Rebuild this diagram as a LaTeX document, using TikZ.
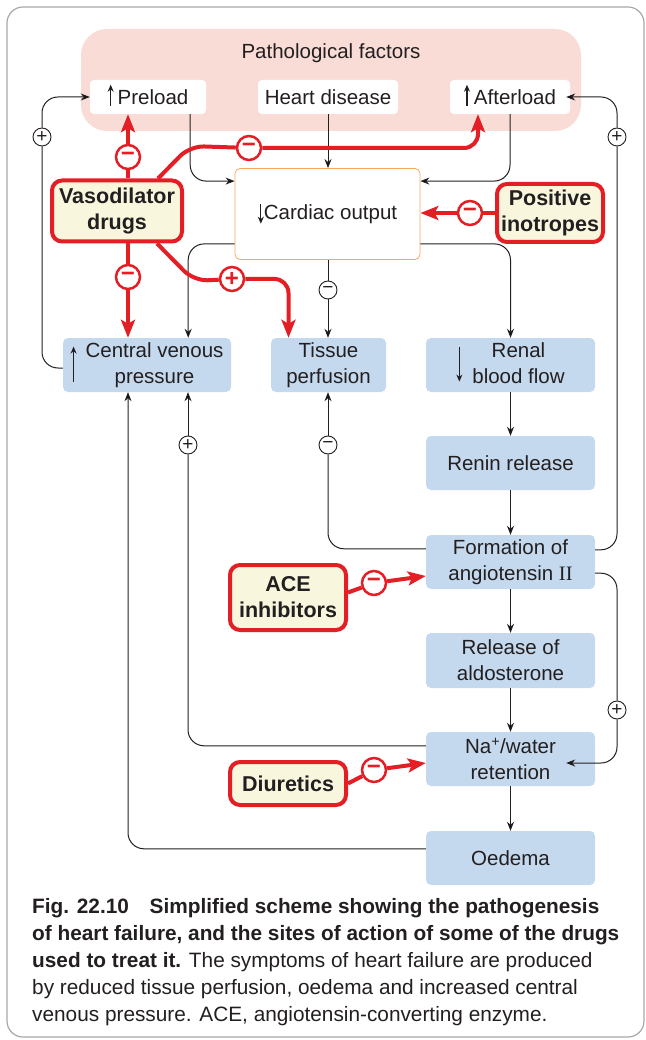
\documentclass[tikz,border=0pt]{standalone}
\usepackage{fontspec}
\setmainfont{Liberation Sans}
\newfontfamily\romfont{Liberation Serif}
\usetikzlibrary{arrows.meta}

\definecolor{inkblack}{HTML}{231F20}
\definecolor{framegray}{HTML}{A8A8A8}
\definecolor{pathopink}{HTML}{FADCD7}
\definecolor{outblue}{HTML}{C5D9EE}
\definecolor{drugred}{HTML}{E31E24}
\definecolor{drugyellow}{HTML}{F8F7DE}
\definecolor{coorange}{HTML}{F5A864}

\tikzset{
  glyph/.style={-{Stealth[length=7pt,width=6pt]}, line width=1.2pt, draw=inkblack},
  patho/.style={fill=pathopink, rounded corners=26pt, minimum width=500pt, minimum height=102pt},
  factor/.style={fill=white, rounded corners=4pt, minimum height=34pt, inner sep=0pt},
  cobox/.style={draw=coorange, line width=0.8pt, fill=white, rounded corners=5pt,
    minimum width=185pt, minimum height=91pt, inner sep=0pt},
  outcome/.style={fill=outblue, rounded corners=5pt, minimum width=169pt, minimum height=54pt,
    align=center, inner sep=0pt},
  drug/.style={draw=drugred, line width=4pt, fill=drugyellow, rounded corners=10pt,
    font=\bfseries\fontsize{21.5}{26}\selectfont, align=center, inner sep=0pt},
  sign/.style={circle, draw=inkblack, fill=white, line width=0.9pt, minimum size=18pt,
    inner sep=0pt, font=\fontsize{19}{19}\selectfont},
  redsign/.style={circle, draw=drugred, fill=white, line width=2.5pt, minimum size=24pt,
    inner sep=0pt, text=drugred, font=\bfseries\fontsize{24}{24}\selectfont},
  flow/.style={-{Stealth[length=9pt,width=7pt]}, draw=inkblack, line width=1pt, rounded corners=16pt},
  link/.style={draw=inkblack, line width=1pt, rounded corners=16pt},
  act/.style={-{Stealth[length=18pt,width=14pt,inset=4pt]}, draw=drugred, line width=4pt, rounded corners=14pt},
  actline/.style={draw=drugred, line width=4pt, rounded corners=14pt},
}

% petites fleches dans le texte des boites
\newcommand{\arrup}[2]{\smash{\raisebox{-#2pt}{\tikz[x=1pt,y=1pt]\draw[glyph] (0,0) -- (0,#1);}}}
\newcommand{\arrdn}[2]{\smash{\raisebox{-#2pt}{\tikz[x=1pt,y=1pt]\draw[glyph] (0,#1) -- (0,0);}}}

\begin{document}
\begin{tikzpicture}[x=1pt, y=-1pt, every node/.style={text=inkblack, font=\fontsize{20.5}{26}\selectfont}]
\useasboundingbox (0,0) rectangle (645,1040);
\draw[framegray, line width=1.2pt, rounded corners=16pt] (7,7) rectangle (644,1037);

% facteurs pathologiques
\node[patho] (patho) at (331,80) {};
\node (title) at (331,53) {Pathological factors};
\node[factor, minimum width=116pt] (preload) at (148,97) {\arrup{21}{2}\hspace{4pt}Preload};
\node[factor, minimum width=140pt] (heart) at (328,97) {Heart disease};
\node[factor, minimum width=120pt] (afterload) at (510,97) {\arrup{21}{2}\hspace{4pt}Afterload};
\node[cobox] (cardiac) at (327.5,214) {\raisebox{4pt}{\arrdn{20}{5}Cardiac output}};

% medicaments
\node[drug, minimum width=130pt, minimum height=61pt] (vaso) at (117,211) {Vasodilator\\drugs};
\node[drug, minimum width=106pt, minimum height=58pt] (ino) at (550,213) {Positive\\inotropes};
\node[drug, minimum width=116pt, minimum height=65pt] (ace) at (288,597.5) {ACE\\inhibitors};
\node[drug, minimum width=116pt, minimum height=43pt] (diur) at (288,783.5) {Diuretics};

% consequences
\node[outcome, minimum width=168pt] (cvp) at (147,365)
  {\arrup{35}{12}\hspace{9pt}\begin{tabular}{@{}c@{}}Central venous\\pressure\end{tabular}};
\node[outcome, minimum width=115pt] (tissue) at (328.5,365) {Tissue\\perfusion};
\node[outcome] (renal) at (510.5,365)
  {\arrdn{35}{12}\hspace{10pt}\begin{tabular}{@{}c@{}}Renal\\blood flow\end{tabular}};
\node[outcome] (renin) at (510.5,463) {Renin release};
\node[outcome] (form) at (510.5,562) {Formation of\\angiotensin {\romfont II}};
\node[outcome, minimum height=55pt] (aldo) at (510.5,660.5) {Release of\\aldosterone};
\node[outcome] (na) at (510.5,759) {Na\textsuperscript{+}/water\\retention};
\node[outcome] (oedema) at (510.5,858) {Oedema};

% signes
\node[sign] (cpl) at (42,137) {+};
\node[sign] (cpr) at (617,137) {+};
\node[sign] (cmc) at (328,290) {−};
\node[sign] (cmt) at (328,445) {−};
\node[sign] (cpc) at (188,445) {+};
\node[sign] (cpn) at (617,710) {+};
\node[redsign] (rv1) at (128,157) {−};
\node[redsign] (rv2) at (128,277) {−};
\node[redsign] (rv3) at (249,148) {−};
\node[redsign] (rv4) at (232,279) {+};
\node[redsign] (ri) at (470,213) {−};
\node[redsign] (ra) at (374,583) {−};
\node[redsign] (rd) at (374,770) {−};

% fleches noires
\draw[flow] ([xshift=-16pt]preload.south east) |- ([yshift=-13pt]cardiac.north west);
\draw[flow] (heart.south) -- (heart.south |- cardiac.north);
\draw[flow] (afterload.south) |- ([yshift=-13pt]cardiac.north east);
\draw[flow] ([yshift=16pt]cardiac.south west) -| ([xshift=-43pt]cvp.north east);
\draw[link] (cardiac.south -| cmc) -- (cmc);
\draw[flow] (cmc) -- (cmc |- tissue.north);
\draw[flow] ([yshift=16pt]cardiac.south east) -| (renal.north);
\draw[flow] (renal) -- (renin);
\draw[flow] (renin) -- (form);
\draw[flow] (form) -- (aldo);
\draw[flow] (aldo) -- (na);
\draw[flow] (na) -- (oedema);
\draw[link] ([yshift=-14pt]form.north west) -| (cmt);
\draw[flow] (cmt) -- (cmt |- tissue.south);
\draw[link] ([yshift=-14pt]na.north west) -| (cpc);
\draw[flow] (cpc) -- (cpc |- cvp.south);
\draw[flow] ([yshift=-18pt]oedema.north west) -| ([xshift=-19pt]cvp.south);
\draw[link] ([yshift=-3pt]cvp.west) -| (cpl);
\draw[flow] (cpl) |- (preload.west);
\draw[link] ([yshift=-15pt]form.north east) -| (cpr);
\draw[flow] (cpr) |- ([xshift=-4pt]afterload.east);
\draw[link] ([yshift=16pt]form.south east) -| (cpn);
\draw[flow] (cpn) |- ([xshift=-29pt,yshift=-4pt]na.east);

% fleches rouges (sites d'action)
\draw[actline] (vaso.north -| rv1) -- (rv1);
\draw[act] (rv1) -- (rv1 |- preload.south);
\draw[actline] (vaso.south -| rv2) -- (rv2);
\draw[act] (rv2) -- (rv2 |- cvp.north);
\draw[actline] ([xshift=-26pt]vaso.north east) -- ++(32,-32.5) -- (rv3);
\draw[act] (rv3) -| ([xshift=-32pt]afterload.south);
\draw[actline] ([xshift=-27pt]vaso.south east) -- ++(37,37.5) -- (rv4);
\draw[act] (rv4) -| ([xshift=-40pt]tissue.north);
\draw[actline] (ino.west) -- (ri);
\draw[act] (ri) -- (ri -| cardiac.east);
\draw[actline] ([yshift=5pt]ace.east) -- (ra);
\draw[act] (ra) -- ([yshift=-14pt]form.west);
\draw[actline] (diur.east) -- (rd);
\draw[act] (rd) -- ([yshift=-4pt]na.west);

% legende
\node[anchor=north west, align=left, inner sep=0pt, font=\fontsize{20.8}{27}\selectfont] (caption) at (32,898)
  {\textbf{Fig. 22.10\hspace{1em}Simplified scheme showing the pathogenesis}\\
   \textbf{of heart failure, and the sites of action of some of the drugs}\\
   \textbf{used to treat it.} The symptoms of heart failure are produced\\
   by reduced tissue perfusion, oedema and increased central\\
   venous pressure. ACE, angiotensin-converting enzyme.};
\end{tikzpicture}
\end{document}
